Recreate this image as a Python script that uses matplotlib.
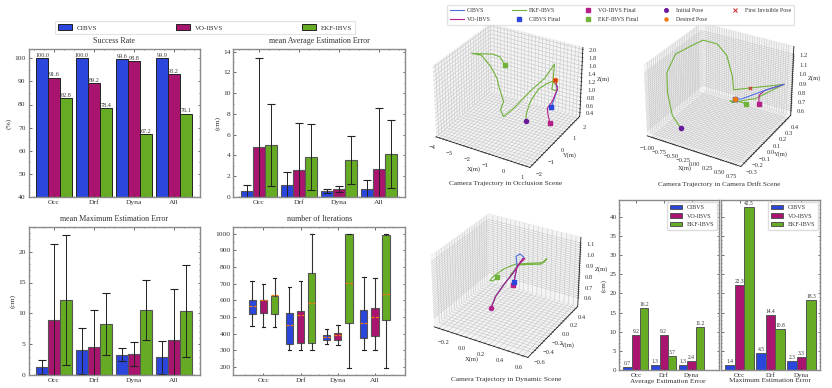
import numpy as np
import matplotlib
matplotlib.use('Agg')
import matplotlib.pyplot as plt
from matplotlib.patches import Patch
from matplotlib.lines import Line2D

plt.rcParams['font.family'] = ['Liberation Serif', 'DejaVu Serif']
plt.rcParams['mathtext.fontset'] = 'stix'

# ---------- data ----------
methods = ['CIBVS', 'VO-IBVS', 'EKF-IBVS']
scenes = ['Occ', 'Drf', 'Dyna', 'All']
scenes3 = ['Occ', 'Drf', 'Dyna']

success = [[100.0, 100.0, 99.6, 99.9], [91.6, 89.2, 98.8, 93.2], [82.8, 78.4, 67.2, 76.1]]

avg_mean = [[0.55, 1.2, 0.6, 0.8], [4.8, 2.6, 0.75, 2.7], [5.0, 3.85, 3.55, 4.15]]
avg_up = [[1.15, 2.4, 0.8, 1.6], [13.4, 7.1, 1.05, 8.55], [9.0, 7.0, 5.85, 7.4]]
avg_lo = [[0.0, 0.0, 0.4, 0.0], [0.0, 0.0, 0.5, 0.0], [1.05, 0.65, 1.25, 0.85]]

max_mean = [[1.3, 4.0, 3.2, 2.9], [8.9, 4.5, 3.4, 5.6], [12.1, 8.3, 10.5, 10.3]]
max_up = [[2.5, 7.7, 4.3, 5.5], [21.3, 10.5, 5.4, 14.0], [22.7, 13.3, 15.4, 17.8]]
max_lo = [[0.2, 0.2, 2.2, 0.2], [0.0, 0.0, 1.4, 0.0], [1.6, 3.3, 5.6, 2.9]]

iter_whislo = [[445, 305, 338, 305], [440, 305, 333, 305], [440, 305, 195, 195]]
iter_q1 = [[520, 340, 365, 373], [525, 342, 365, 385], [518, 342, 467, 483]]
iter_med = [[565, 450, 380, 467], [600, 510, 390, 500], [630, 582, 702, 640]]
iter_q3 = [[600, 525, 392, 543], [605, 538, 405, 557], [628, 767, 1000, 990]]
iter_whishi = [[715, 680, 428, 738], [700, 717, 450, 733], [732, 1000, 1000, 1000]]

bar_avg = [[0.7, 1.3, 1.3], [9.2, 9.2, 2.4], [16.2, 3.7, 11.2]]
bar_max = [[1.4, 4.5, 2.3], [22.3, 14.4, 3.3], [42.5, 10.8, 18.3]]

occ_green_x = [-.47, -.44, -.23, .21, .08, .34, .61, .55, .3, .34, .41, -.1, -.23, -1.1, -1.72, -1.9, -1.72, -1.98, -2.07, -2.42, -2.95, -3.5, -3.0, -2.33, -1.9, -1.63]
occ_green_y = [0, 0, 0, 0, 1, 1, 1, 1, 1, 1, 1, 1, 0, 0, 0, 0, 0, 0, 0, 0, 0, 0, 0, 0, 0, 0]
occ_green_z = [.57, .77, 1.10, 1.47, 1.33, 1.41, 1.31, 1.2, 1.2, 1.33, 1.84, 1.43, 1.36, .83, .51, .66, .9, 1.24, 1.42, 1.68, 1.9, 1.88, 1.93, 2.0, 1.98, 1.81]
occ_blue_x = [.47, .61, .43, .31]
occ_blue_y = [1, 1, 1, 1]
occ_blue_z = [1.46, 1.25, .96, .75]
occ_mag_x = [.47, .61, .34, .08, .13, .25]
occ_mag_y = [1, 1, 1, 1, 1, 1]
occ_mag_z = [1.46, 1.25, .9, .69, .53, .33]

drf_green_x = [-.6, -.78, -1.03, -1.03, -.99, -.9, -.7, -.4, -.2, -.08, -.05, .74, .15, .3, -.07, -.13, .03, .21]
drf_green_y = [-.2, -.2, -.1, -.1, 0, .2, .2, .2, .2, .2, .2, .4, .4, .2, .2, .2, .2, .2]
drf_green_z = [.61, .72, .86, 1.07, 1.21, 1.21, 1.28, 1.28, 1.19, .99, .85, .9, .66, .80, .71, .72, .74, .74]
drf_mag_x = [.74, .35, .23, .23]
drf_mag_y = [.4, .4, .4, .4]
drf_mag_z = [.9, .78, .71, .61]
drf_blue_x = [.74, .35, .13, -.03]
drf_blue_y = [.4, .4, .2, .2]
drf_blue_z = [.9, .78, .78, .75]
drf_inv = [.3, .2, .92]

dyn_x = [.01, .06, .15, .25]
dyn_y = [-.2, -.2, -.2, -.2]
dyn_z = [.59, .71, .84, .97]
dyn_blue_x = [.32, .36, .32, .28, .29, .26]
dyn_blue_z = [1.07, 1.13, 1.15, 1.12, 1.04, .895]
dyn_mag_x = [.32, .37, .35, .29, .25]
dyn_mag_z = [1.07, 1.12, 1.12, 1.03, .86]
dyn_green_x = [.22, .30, .41, .53, .59, .56, .41, .27, .15, .03, .0, .04, .08]
dyn_green_z = [.94, 1.05, 1.08, 1.11, 1.17, 1.13, 1.09, 1.05, .98, .88, .84, .85, .89]

# ---------- style ----------
COL = ['#2a46dc', '#a8146e', '#66ab24']
W, H = 832, 388
fig = plt.figure(figsize=(W / 100, H / 100), dpi=100)
FRAME = '#8a8a8a'
TXT = '#333333'


def rect(l, t, r, b):
    return [l / W, 1 - b / H, (r - l) / W, (b - t) / H]


def style(ax, ylabel=None, ymaj=None, yminor=None, fs=5.4):
    for s in ax.spines.values():
        s.set_color(FRAME)
        s.set_linewidth(1.0)
    ax.tick_params(which='both', direction='in', top=True, right=True, colors='#333333',
                   labelsize=fs, length=1.8, width=0.5, pad=2)
    ax.tick_params(which='minor', length=1.0, width=0.4)
    if ylabel:
        ax.set_ylabel(ylabel, fontsize=fs, color=TXT, labelpad=2)
    if ymaj is not None:
        ax.set_yticks(ymaj)
    if yminor is not None:
        ax.set_yticks(yminor, minor=True)


def panel(pos, title, ylim, yticks, yminor, ylabel, xlim, centers, labels):
    ax = fig.add_axes(rect(*pos))
    ax.set_xlim(*xlim)
    ax.set_ylim(*ylim)
    style(ax, ylabel, yticks, yminor)
    ax.set_xticks(centers)
    ax.set_xticklabels(labels)
    ax.set_xticks(np.arange(-0.5, len(centers) - 0.4, 0.25), minor=True)
    if title:
        ax.set_title(title, fontsize=5.8, color=TXT, pad=4)
    return ax


BW = 0.3
XL = (-0.64, 3.66)
centers = np.arange(4)

# Success rate
ax = panel((28.5, 49, 200, 197), 'Success Rate', (40, 104), np.arange(40, 101, 10),
           np.arange(40, 104, 5), '(%)', XL, centers, scenes)
for i in range(3):
    xs = centers + (i - 1) * BW
    ax.bar(xs, success[i], BW, color=COL[i], edgecolor='#222222', linewidth=0.7)
    for x, v in zip(xs, success[i]):
        ax.text(x, v + 0.2, f'{v:.1f}', ha='center', va='bottom', fontsize=4.4, color=TXT)


def err_panel(pos, title, ylim, yticks, yminor, mean, up, lo):
    ax = panel(pos, title, ylim, yticks, yminor, '(cm)', XL, centers, scenes)
    for i in range(3):
        xs = centers + (i - 1) * BW
        ax.bar(xs, mean[i], BW, color=COL[i], edgecolor='#555555', linewidth=0.8)
        m = np.array(mean[i])
        ax.errorbar(xs, m, yerr=[m - np.array(lo[i]), np.array(up[i]) - m], fmt='none',
                    ecolor='#222222', elinewidth=0.7, capsize=2.8, capthick=0.8)
    return ax


err_panel((233.5, 49, 405, 197), 'mean Average Estimation Error', (0, 14.25), np.arange(0, 15, 2),
          np.arange(0, 14.1, 1), avg_mean, avg_up, avg_lo)
err_panel((28.5, 227, 200, 375), 'mean Maximum Estimation Error', (0, 24), np.arange(0, 21, 5),
          np.arange(0, 24, 1), max_mean, max_up, max_lo)

# Iterations boxplot
bx = panel((233.5, 227, 405, 375), 'number of Iterations', (152, 1040), np.arange(200, 1001, 100),
           np.arange(200, 1001, 50), None, (-0.807, 3.81), centers, scenes)
for i in range(3):
    stats = []
    for j in range(4):
        stats.append(dict(whislo=iter_whislo[i][j], q1=iter_q1[i][j], med=iter_med[i][j],
                          q3=iter_q3[i][j], whishi=iter_whishi[i][j], fliers=[]))
    art = bx.bxp(stats, positions=centers + (i - 1) * 0.3, widths=0.2, patch_artist=True,
                 showfliers=False, manage_ticks=False,
                 boxprops=dict(facecolor=COL[i], edgecolor='#555555', linewidth=0.8),
                 medianprops=dict(color='#ee7711', linewidth=0.9, linestyle=(0, (2.5, 1))),
                 whiskerprops=dict(color='#333333', linewidth=0.8),
                 capprops=dict(color='#222222', linewidth=0.8))

# Top legend of left block
handles = [Patch(facecolor=COL[i], edgecolor='#222222', linewidth=0.7, label=methods[i]) for i in range(3)]
lg = fig.legend(handles=handles, loc='upper left', ncol=3,
                fontsize=5.0, frameon=True, borderaxespad=0, mode='expand', handlelength=2.0,
                handleheight=1.0, borderpad=0.45, labelcolor=TXT, handletextpad=0.7)
lg.set_bbox_to_anchor([55 / W, 1 - 33.5 / H, (355 - 55) / W, 12.5 / H], transform=fig.transFigure)
lg.get_frame().set_edgecolor('#dddddd')
lg.get_frame().set_linewidth(0.8)
lg.get_frame().set_boxstyle('square', pad=0)


# Right bars
def small_bar(pos, xlim, data, title, yvisible, width, tx):
    ax = fig.add_axes(rect(*pos))
    ax.set_xlim(*xlim)
    ax.set_ylim(0, 44.4)
    style(ax, '(cm)' if yvisible else None, np.arange(0, 41, 5), np.arange(0, 44, 1), fs=5.0)
    ax.set_xticks(range(3))
    ax.set_xticklabels(scenes3)
    if not yvisible:
        ax.tick_params(axis='y', which='both', labelleft=False)
    for i in range(3):
        xs = np.arange(3) + (i - 1) * width
        ax.bar(xs, data[i], width, color=COL[i], edgecolor='#555555', linewidth=0.7, label=methods[i])
        for x, v in zip(xs, data[i]):
            ax.text(x, v + 0.25, f'{v:.1f}', ha='center', va='bottom', fontsize=4.0, color=TXT)
    l = ax.legend(loc='upper right', fontsize=4.4, frameon=True, handlelength=2.0, handleheight=0.8,
                  borderpad=0.5, labelspacing=0.5, borderaxespad=0.25, labelcolor=TXT, framealpha=1,
                  handletextpad=0.8)
    l.get_frame().set_edgecolor('#dddddd')
    fig.text(tx / W, 1 - 381 / H, title, fontsize=5.2, color=TXT, ha='center', va='center')
    return ax


small_bar((619.3, 200, 719, 370), (-0.6, 2.99), bar_avg, 'Average Estimation Error', True, 0.3, 668)
small_bar((721, 200, 820, 370), (-0.6, 2.6), bar_max, 'Maximum Estimation Error', False, 0.31, 770)

# ---------- 3D panels ----------
C_BLUE, C_MAG, C_GRN = '#4b6fe0', '#b3208a', '#71b23a'
C_INIT, C_DES, C_INV = '#6a1b9a', '#ee7711', '#cc2222'


def ax3d(pos, xlim, ylim, zlim, xt, yt, zt, title, title_y):
    ax = fig.add_axes(rect(*pos), projection='3d')
    ax.view_init(elev=30, azim=-60)
    ax.set_xlim(*xlim)
    ax.set_ylim(*ylim)
    ax.set_zlim(*zlim)
    for axis, (t, lab) in zip((ax.xaxis, ax.yaxis, ax.zaxis), (xt, yt, zt)):
        axis.set_ticks(t)
        axis.set_ticklabels(lab)
        axis._axinfo['grid'].update(color='#c6c6c6', linewidth=0.4)
        axis._axinfo['tick'].update(inward_factor=0.1, outward_factor=0.1)
        axis._axinfo['tick']['linewidth'] = {True: 0.4, False: 0.4}
        axis.line.set_linewidth(0.5)
        axis.set_pane_color((0.93, 0.93, 0.93, 0.6))
    ax.tick_params(labelsize=4.7, pad=-3.5, colors=TXT)
    ax.set_xlabel('X(m)', fontsize=4.7, labelpad=-12, color=TXT)
    ax.set_ylabel('Y(m)', fontsize=4.7, labelpad=-12, color=TXT)
    ax.set_zlabel('Z(m)', fontsize=4.7, labelpad=-11, color=TXT)
    ax.patch.set_alpha(0)
    fig.text(title[1] / W, 1 - title_y / H, title[0], fontsize=5.2, ha='center', va='center', color=TXT)
    return ax


def dense(lo, hi, step, major):
    ts = np.round(np.arange(lo, hi + step / 2, step), 4)
    return ts, [major(t) for t in ts]


def lab_every(m, fmt):
    def f(t):
        r = t / m
        if abs(r - round(r)) < 1e-6:
            return fmt.format(t if abs(t) > 1e-9 else 0.0).replace('-', '\u2212')
        return ''
    return f


LW = 0.8
MS = 9

# Occlusion
a = ax3d((420, 11, 594, 178), (-4, 1.2), (-2.2, 2.2), (0.3, 2.05),
         dense(-4, 1, 0.2, lab_every(1, '{:.0f}')), dense(-2, 2, 0.2, lab_every(1, '{:.0f}')),
         dense(0.4, 2.0, 0.1, lab_every(0.2, '{:.1f}')), ('Camera Trajectory in Occlusion Scene', 506), 184)
a.plot(occ_green_x, occ_green_y, occ_green_z, color=C_GRN, lw=LW)
a.plot(occ_blue_x, occ_blue_y, occ_blue_z, color=C_BLUE, lw=LW)
a.plot(occ_mag_x, occ_mag_y, occ_mag_z, color=C_MAG, lw=LW)
a.scatter(occ_green_x[:1], occ_green_y[:1], occ_green_z[:1], color=C_INIT, s=MS, depthshade=False)
a.scatter(occ_blue_x[:1], occ_blue_y[:1], occ_blue_z[:1], color=C_DES, s=MS, depthshade=False)
a.scatter(occ_blue_x[-1:], occ_blue_y[-1:], occ_blue_z[-1:], color='#2a46dc', s=MS, marker='s', depthshade=False)
a.scatter(occ_blue_x[:1], occ_blue_y[:1], occ_blue_z[:1], color=C_INV, s=6, marker='x', linewidths=0.7, depthshade=False)
a.scatter(occ_mag_x[-1:], occ_mag_y[-1:], occ_mag_z[-1:], color=C_MAG, s=MS, marker='s', depthshade=False)
a.scatter(occ_green_x[-1:], occ_green_y[-1:], occ_green_z[-1:], color=C_GRN, s=MS, marker='s', depthshade=False)

# Drift
a = ax3d((631, 10, 805, 177), (-1.1, 0.85), (-0.35, 0.45), (0.55, 1.28),
         dense(-1.0, 0.75, 0.05, lab_every(0.25, '{:.2f}')), dense(-0.3, 0.4, 0.025, lab_every(0.1, '{:.1f}')),
         dense(0.6, 1.2, 0.02, lab_every(0.1, '{:.1f}')), ('Camera Trajectory in Camera Drift Scene', 719), 184)
a.plot(drf_green_x, drf_green_y, drf_green_z, color=C_GRN, lw=LW)
a.plot(drf_mag_x, drf_mag_y, drf_mag_z, color=C_MAG, lw=LW)
a.plot(drf_blue_x, drf_blue_y, drf_blue_z, color=C_BLUE, lw=LW)
a.scatter(drf_green_x[:1], drf_green_y[:1], drf_green_z[:1], color=C_INIT, s=MS, depthshade=False)
a.scatter(drf_mag_x[-1:], drf_mag_y[-1:], drf_mag_z[-1:], color=C_MAG, s=MS, marker='s', depthshade=False)
a.scatter(drf_green_x[-1:], drf_green_y[-1:], drf_green_z[-1:], color=C_GRN, s=MS, marker='s', depthshade=False)
a.scatter(drf_blue_x[-1:], drf_blue_y[-1:], drf_blue_z[-1:], color='#2a46dc', s=MS, marker='s', depthshade=False)
a.scatter(drf_blue_x[-1:], drf_blue_y[-1:], drf_blue_z[-1:], color=C_DES, s=MS, depthshade=False)
a.scatter(drf_inv[:1], drf_inv[1:2], drf_inv[2:], color=C_INV, s=6, marker='x', linewidths=0.7, depthshade=False)

# Dynamic
a = ax3d((418, 201, 592, 368), (-0.35, 0.65), (-0.7, 0.45), (0.52, 1.15),
         dense(-0.3, 0.6, 0.05, lab_every(0.2, '{:.1f}')), dense(-0.6, 0.4, 0.05, lab_every(0.2, '{:.1f}')),
         dense(0.6, 1.1, 0.02, lab_every(0.1, '{:.1f}')), ('Camera Trajectory in Dynamic Scene', 506), 379)
ny = lambda s: [dyn_y[0]] * len(s)
a.plot(dyn_x + dyn_green_x, ny(dyn_x + dyn_green_x), dyn_z + dyn_green_z, color=C_GRN, lw=LW)
a.plot(dyn_x + dyn_blue_x, ny(dyn_x + dyn_blue_x), dyn_z + dyn_blue_z, color=C_BLUE, lw=LW)
a.plot(dyn_x + dyn_mag_x, ny(dyn_x + dyn_mag_x), dyn_z + dyn_mag_z, color=C_MAG, lw=LW)
a.scatter(dyn_x[:1], dyn_y[:1], dyn_z[:1], color=C_MAG, s=MS, depthshade=False)
a.scatter(dyn_blue_x[-1:], dyn_y[:1], dyn_blue_z[-1:], color='#2a46dc', s=MS, marker='s', depthshade=False)
a.scatter(dyn_mag_x[-1:], dyn_y[:1], dyn_mag_z[-1:], color=C_MAG, s=MS, marker='s', depthshade=False)
a.scatter(dyn_green_x[-1:], dyn_y[:1], dyn_green_z[-1:], color=C_GRN, s=MS, marker='s', depthshade=False)

# Trajectory legend
hs = [Line2D([], [], color=C_BLUE, lw=LW, label='CIBVS'),
      Line2D([], [], color=C_MAG, lw=LW, label='VO-IBVS'),
      Line2D([], [], color=C_GRN, lw=LW, label='EKF-IBVS'),
      Line2D([], [], color='#2a46dc', marker='s', ms=2.6, ls='', label='CIBVS Final'),
      Line2D([], [], color=C_MAG, marker='s', ms=2.6, ls='', label='VO-IBVS Final'),
      Line2D([], [], color=C_GRN, marker='s', ms=2.6, ls='', label='EKF-IBVS Final'),
      Line2D([], [], color=C_INIT, marker='o', ms=2.6, ls='', label='Initial Pose'),
      Line2D([], [], color=C_DES, marker='o', ms=2.2, ls='', label='Desired Pose'),
      Line2D([], [], color=C_INV, marker='x', ms=2.6, mew=0.7, ls='', label='First Invisible Pose')]
lg2 = fig.legend(handles=hs, loc='upper left', bbox_to_anchor=(447 / W, 1 - 5 / H), ncol=5, fontsize=4.2,
                 frameon=True, borderaxespad=0, handlelength=2.4, handletextpad=0.5, columnspacing=3.6,
                 labelspacing=0.7, borderpad=0.5, labelcolor=TXT)
lg2.get_frame().set_edgecolor('#dddddd')

fig.savefig('out.png', dpi=100)
